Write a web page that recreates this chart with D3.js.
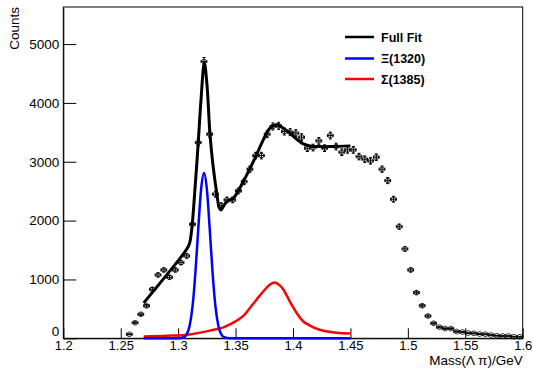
<!DOCTYPE html>
<html>
<head>
<meta charset="utf-8">
<script src="https://cdn.jsdelivr.net/npm/d3@7"></script>
<style>
  html, body { margin: 0; padding: 0; background: #fff; }
  svg { display: block; font-family: "Liberation Sans", Arial, Helvetica, sans-serif; }
</style>
</head>
<body>
<svg id="chart" width="533" height="368"></svg>
<script>
// ---- Data ----
const binCenters = [1.2575,1.2625,1.2675,1.2725,1.2775,1.2825,1.2875,1.2925,1.2975,1.3025,1.3075,1.3125,1.3175,1.3225,1.3275,1.3325,1.3375,1.3425,1.3475,1.3525,1.3575,1.3625,1.3675,1.3725,1.3775,1.3825,1.3875,1.3925,1.3975,1.4025,1.4075,1.4125,1.4175,1.4225,1.4275,1.4325,1.4375,1.4425,1.4475,1.4525,1.4575,1.4625,1.4675,1.4725,1.4775,1.4825,1.4875,1.4925,1.4975,1.5025,1.5075,1.5125,1.5175,1.5225,1.5275,1.5325,1.5375,1.5425,1.5475,1.5525,1.5575,1.5625,1.5675,1.5725,1.5775,1.5825,1.5875,1.5925,1.5975];
const binCounts = [68,265,408,552,833,1077,1162,1037,1162,1286,1400,1939,3327,4704,3469,2449,2255,2352,2352,2505,2663,2874,3105,3105,3469,3600,3610,3514,3503,3486,3418,3231,3241,3355,3231,3446,3259,3163,3202,3202,3088,3044,3015,3078,2874,2680,2364,1898,1519,1162,776,554,379,255,190,165,165,115,107,90,85,73,68,56,44,39,39,27,27];
const binHalfWidth = 0.0025;

const fullFitMass   = [1.2700,1.2886,1.3060,1.3097,1.3118,1.3147,1.3175,1.3199,1.3228,1.3251,1.3277,1.3303,1.3336,1.3358,1.3373,1.3391,1.3423,1.3480,1.3567,1.3669,1.3741,1.3800,1.3858,1.3916,1.3974,1.4032,1.4090,1.4148,1.4235,1.4322,1.4500];
const fullFitCounts = [600,1043,1473,1600,1850,2550,3327,4053,4682,4308,3474,2947,2466,2217,2182,2233,2323,2381,2663,3061,3372,3571,3628,3571,3486,3384,3304,3270,3258,3258,3270];

const xiMass   = [1.2700,1.3000,1.3050,1.3075,1.3100,1.3125,1.3150,1.3175,1.3200,1.3225,1.3250,1.3275,1.3300,1.3325,1.3350,1.3375,1.3400,1.3450,1.4500];
const xiCounts = [0,0,18,68,213,538,1110,1857,2535,2810,2535,1857,1110,538,213,68,18,0,0];

const sigmaMass   = [1.2700,1.2900,1.3100,1.3277,1.3400,1.3480,1.3567,1.3626,1.3684,1.3741,1.3800,1.3843,1.3887,1.3916,1.3974,1.4032,1.4090,1.4177,1.4264,1.4380,1.4500];
const sigmaCounts = [30,42,65,130,190,265,380,520,660,795,915,948,895,830,620,430,285,187,129,95,82];

const xMajorTicks = [1.2,1.25,1.3,1.35,1.4,1.45,1.5,1.55,1.6];
const xTickLabels = ["1.2","1.25","1.3","1.35","1.4","1.45","1.5","1.55","1.6"];
const yMajorTicks = [0,1000,2000,3000,4000,5000];

const legendLabels = ["Full Fit","\u039E(1320)","\u03A3(1385)"];
const legendColors = ["#000000","#0000ff","#ff0000"];

// ---- Scales ----
const svg = d3.select("#chart");
const L = 63.3, R = 522.7, T = 7, B = 338.3;
const x = d3.scaleLinear().domain([1.2, 1.6]).range([L, R]);
const y = d3.scaleLinear().domain([0, 5630]).range([B, T]);

// frame
svg.append("rect").attr("x", L).attr("y", T).attr("width", R - L).attr("height", B - T)
  .attr("fill", "none").attr("stroke", "#000").attr("stroke-width", 1);

// ---- Axes ----
const xMinor = d3.range(0, 41).map(i => 1.2 + i * 0.01);
const yMinor = d3.range(0, 29).map(i => i * 200);

const gx = svg.append("g").attr("transform", `translate(0,${B})`);
gx.call(d3.axisBottom(x).tickValues(xMinor).tickSize(-5).tickSizeOuter(0).tickFormat(""));
gx.call(d3.axisBottom(x).tickValues(xMajorTicks).tickSize(-10).tickSizeOuter(0)
  .tickPadding(4).tickFormat((d, i) => xTickLabels[i]));
gx.selectAll("text").attr("font-size", "13px").attr("fill", "#000").attr("dy", "0.74em")
  .attr("y", 2.5);
gx.selectAll(".tick line").attr("stroke", "#000");
gx.selectAll(".domain").attr("stroke", "#000");

const gy = svg.append("g").attr("transform", `translate(${L},0)`);
gy.call(d3.axisLeft(y).tickValues(yMinor.filter(v => v <= 5630)).tickSize(-6.5).tickSizeOuter(0).tickFormat(""));
gy.call(d3.axisLeft(y).tickValues(yMajorTicks).tickSize(-13).tickSizeOuter(0).tickPadding(4)
  .tickFormat(d3.format("d")));
gy.selectAll("text").attr("font-size", "13.5px").attr("fill", "#000");
gy.selectAll(".tick line").attr("stroke", "#000");
gy.selectAll(".domain").attr("stroke", "#000");
// ROOT puts the "0" a little higher
gy.selectAll(".tick").filter(d => d === 0).select("text").attr("dy", "-0.2em");

// axis titles
svg.append("text").attr("x", R).attr("y", 365).attr("text-anchor", "end")
  .attr("font-size", "13.5px").attr("fill", "#000").text("Mass(\u039B \u03C0)/GeV");
svg.append("text").attr("transform", "translate(19,7) rotate(-90)").attr("text-anchor", "end")
  .attr("font-size", "13.5px").attr("fill", "#000").text("Counts");

// ---- Fit curves ----
function curve(mass, counts, color, width, interp) {
  const pts = mass.map((m, i) => [m, counts[i]]);
  svg.append("path").datum(pts)
    .attr("d", d3.line().x(d => x(d[0])).y(d => y(d[1])).curve(interp))
    .attr("fill", "none").attr("stroke", color).attr("stroke-width", width)
    .attr("stroke-linejoin", "round");
}
curve(sigmaMass, sigmaCounts, "#ff0000", 2.5, d3.curveCatmullRom.alpha(0.5));
curve(xiMass, xiCounts, "#0000ff", 2.5, d3.curveMonotoneX);
curve(fullFitMass, fullFitCounts, "#000000", 3, d3.curveCatmullRom.alpha(0.5));

// ---- Data points with error bars ----
const gp = svg.append("g").attr("stroke", "#000").attr("stroke-width", 1).attr("fill", "none");
binCenters.forEach((m, i) => {
  const c = binCounts[i];
  const e = Math.sqrt(c);
  const cx = x(m), cy = y(c);
  const x0 = x(m - binHalfWidth), x1 = x(m + binHalfWidth);
  const y0 = y(c - e), y1 = y(c + e);
  gp.append("line").attr("x1", x0).attr("x2", x1).attr("y1", cy).attr("y2", cy);
  gp.append("line").attr("x1", cx).attr("x2", cx).attr("y1", y0).attr("y2", y1);
  // end caps
  gp.append("line").attr("x1", x0).attr("x2", x0).attr("y1", cy - 1.5).attr("y2", cy + 1.5);
  gp.append("line").attr("x1", x1).attr("x2", x1).attr("y1", cy - 1.5).attr("y2", cy + 1.5);
  gp.append("line").attr("x1", cx - 1.5).attr("x2", cx + 1.5).attr("y1", y0).attr("y2", y0);
  gp.append("line").attr("x1", cx - 1.5).attr("x2", cx + 1.5).attr("y1", y1).attr("y2", y1);
  gp.append("circle").attr("cx", cx).attr("cy", cy).attr("r", 2.4).attr("stroke-width", 0.8);
});

// ---- Legend ----
const legY = [37, 58.5, 79];
legendLabels.forEach((lab, i) => {
  svg.append("line").attr("x1", 345).attr("x2", 374).attr("y1", legY[i]).attr("y2", legY[i])
    .attr("stroke", legendColors[i]).attr("stroke-width", 2.5);
  svg.append("text").attr("x", 381).attr("y", legY[i]).attr("dy", "0.36em")
    .attr("font-size", "12.5px").attr("font-weight", "bold").attr("fill", "#000").text(lab);
});
</script>
</body>
</html>
